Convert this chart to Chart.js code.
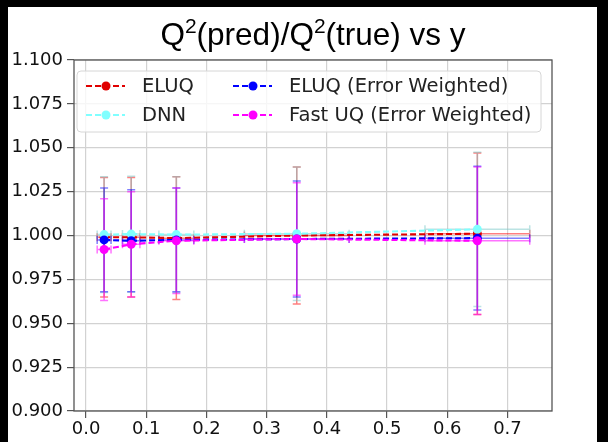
<!DOCTYPE html>
<html>
<head>
<meta charset="utf-8">
<script src="https://cdn.jsdelivr.net/npm/chart.js@4/dist/chart.umd.min.js"></script>
<style>
  html, body { margin: 0; padding: 0; background: #000; width: 608px; height: 442px; overflow: hidden; }
  #frame { position: absolute; left: 8px; top: 7px; width: 589px; height: 435px; background: #fff; }
  canvas { display: block; }
</style>
</head>
<body>
<div id="frame"><canvas id="ratioChart" width="589" height="435"></canvas></div>
<script>
// y bin centres and their spread (horizontal error bars)
const yBins = [0.03, 0.075, 0.15, 0.35, 0.65];
const yBinSpread = [0.0115, 0.0145, 0.029, 0.087, 0.087];

// Q2(pred)/Q2(true) per bin, with vertical error bars
const eluq = [0.999, 0.999, 0.9985, 1.000, 1.001];
const eluqErr = [0.034, 0.034, 0.035, 0.039, 0.046];
const dnn = [1.0005, 1.0008, 1.0005, 1.001, 1.0035];
const dnnErr = [0.033, 0.033, 0.033, 0.038, 0.044];
const eluqWeighted = [0.9975, 0.997, 0.9975, 0.998, 0.9985];
const eluqWeightedErr = [0.0295, 0.029, 0.0295, 0.033, 0.041];
const fastUq = [0.992, 0.995, 0.997, 0.998, 0.997];
const fastUqErr = [0.029, 0.030, 0.030, 0.032, 0.042];

const seriesNames = ['ELUQ', 'DNN', 'ELUQ (Error Weighted)', 'Fast UQ (Error Weighted)'];
const xTicks = [0.0, 0.1, 0.2, 0.3, 0.4, 0.5, 0.6, 0.7];
const yTicks = [0.900, 0.925, 0.950, 0.975, 1.000, 1.025, 1.050, 1.075, 1.100];

function points(vals, errs) {
  return yBins.map((b, i) => ({ x: b, y: vals[i], xErr: yBinSpread[i], yErr: errs[i] }));
}

function series(label, vals, errs, color, errColor, order) {
  return {
    label: label,
    data: points(vals, errs),
    showLine: true,
    borderColor: color,
    backgroundColor: color,
    borderWidth: 2.1,
    borderDash: [6, 3],
    pointRadius: 4.5,
    pointBorderWidth: 0,
    errorColor: errColor,
    order: order
  };
}

// error bars in both directions, drawn under the lines
const errorBars = {
  id: 'errorBars',
  beforeDatasetsDraw(chart) {
    const { ctx, scales: { x, y } } = chart;
    const cap = 4;
    ctx.save();
    ctx.lineWidth = 1.5;
    chart.data.datasets.forEach(ds => {
      ctx.strokeStyle = ds.errorColor;
      ds.data.forEach(p => {
        const px = x.getPixelForValue(p.x);
        const py = y.getPixelForValue(p.y);
        const top = y.getPixelForValue(p.y + p.yErr);
        const bot = y.getPixelForValue(p.y - p.yErr);
        const lft = x.getPixelForValue(p.x - p.xErr);
        const rgt = x.getPixelForValue(p.x + p.xErr);
        ctx.beginPath();
        ctx.moveTo(px, top); ctx.lineTo(px, bot);
        ctx.moveTo(px - cap, top); ctx.lineTo(px + cap, top);
        ctx.moveTo(px - cap, bot); ctx.lineTo(px + cap, bot);
        ctx.moveTo(lft, py); ctx.lineTo(rgt, py);
        ctx.moveTo(lft, py - cap); ctx.lineTo(lft, py + cap);
        ctx.moveTo(rgt, py - cap); ctx.lineTo(rgt, py + cap);
        ctx.stroke();
      });
    });
    ctx.restore();
  }
};

// axes frame on all four sides
const frame = {
  id: 'frame',
  afterDatasetsDraw(chart) {
    const { ctx, chartArea: a } = chart;
    ctx.save();
    ctx.strokeStyle = '#555';
    ctx.lineWidth = 1.3;
    ctx.strokeRect(a.left, a.top, a.right - a.left, a.bottom - a.top);
    ctx.restore();
  }
};

// two-column legend in the upper left of the axes
const legendBox = {
  id: 'legendBox',
  afterDraw(chart) {
    const { ctx, chartArea: a } = chart;
    const left = a.left + 3, top = a.top + 11, w = 464, h = 61;
    ctx.save();
    ctx.beginPath();
    ctx.roundRect(left, top, w, h, 4);
    ctx.fillStyle = 'rgba(255,255,255,0.8)';
    ctx.fill();
    ctx.strokeStyle = '#d6d6d6';
    ctx.lineWidth = 1;
    ctx.stroke();
    ctx.font = '19.5px "DejaVu Sans"';
    ctx.textBaseline = 'middle';
    chart.data.datasets.forEach((ds, i) => {
      const cx = left + [0, 147][Math.floor(i / 2)];
      const cy = top + [15, 44][i % 2];
      ctx.strokeStyle = ds.borderColor;
      ctx.lineWidth = 1.8;
      ctx.setLineDash([6, 3]);
      ctx.beginPath();
      ctx.moveTo(cx + 9, cy); ctx.lineTo(cx + 48, cy);
      ctx.stroke();
      ctx.setLineDash([]);
      ctx.fillStyle = ds.backgroundColor;
      ctx.beginPath();
      ctx.arc(cx + 29, cy, 4.5, 0, Math.PI * 2);
      ctx.fill();
      ctx.fillStyle = '#222';
      ctx.fillText(ds.label, cx + 65, cy + 1);
    });
    ctx.restore();
  }
};

// title with superscript 2, centred on the axes
const titleText = {
  id: 'titleText',
  afterDraw(chart) {
    const { ctx, chartArea: a } = chart;
    const parts = [['Q', 0], ['2', 1], ['(pred)/Q', 0], ['2', 1], ['(true) vs y', 0]];
    const big = '31.5px "Liberation Sans"', small = '21px "Liberation Sans"';
    ctx.save();
    ctx.fillStyle = '#000';
    ctx.textBaseline = 'alphabetic';
    let total = 0;
    parts.forEach(([t, sup]) => { ctx.font = sup ? small : big; total += ctx.measureText(t).width; });
    let x = (a.left + a.right) / 2 - total / 2;
    const base = 38;
    parts.forEach(([t, sup]) => {
      ctx.font = sup ? small : big;
      ctx.fillText(t, x, sup ? base - 12 : base);
      x += ctx.measureText(t).width;
    });
    ctx.restore();
  }
};

const tickFont = { family: 'DejaVu Sans', size: 18 };

new Chart(document.getElementById('ratioChart'), {
  type: 'scatter',
  data: {
    datasets: [
      series(seriesNames[0], eluq, eluqErr, '#e00000', 'rgba(255,0,0,0.5)', 4),
      series(seriesNames[1], dnn, dnnErr, '#80ffff', 'rgba(120,200,200,0.5)', 3),
      series(seriesNames[2], eluqWeighted, eluqWeightedErr, '#0000ff', 'rgba(0,0,255,0.5)', 2),
      series(seriesNames[3], fastUq, fastUqErr, '#ff00ff', 'rgba(255,0,255,0.55)', 1)
    ]
  },
  options: {
    responsive: false,
    animation: false,
    layout: { padding: { top: 53, right: 45, left: 0, bottom: 0 } },
    plugins: {
      legend: { display: false },
      title: { display: false },
      tooltip: { enabled: false }
    },
    scales: {
      x: {
        type: 'linear',
        min: -0.02,
        max: 0.774,
        afterFit(scale) { scale.height = 31; },
        afterBuildTicks(scale) { scale.ticks = xTicks.map(v => ({ value: v })); },
        ticks: { font: tickFont, color: '#111', padding: 1, maxRotation: 0, callback: v => v.toFixed(1) },
        grid: { color: '#d2d2d2', lineWidth: 1.2, tickColor: '#555', tickLength: 7 },
        border: { display: false }
      },
      y: {
        type: 'linear',
        min: 0.9,
        max: 1.1,
        afterFit(scale) { scale.width = 66; },
        afterBuildTicks(scale) { scale.ticks = yTicks.map(v => ({ value: v })); },
        ticks: { font: tickFont, color: '#111', padding: 4, callback: v => v.toFixed(3) },
        grid: { color: '#d2d2d2', lineWidth: 1.2, tickColor: '#555', tickLength: 7 },
        border: { display: false }
      }
    }
  },
  plugins: [errorBars, frame, legendBox, titleText]
});
</script>
</body>
</html>
